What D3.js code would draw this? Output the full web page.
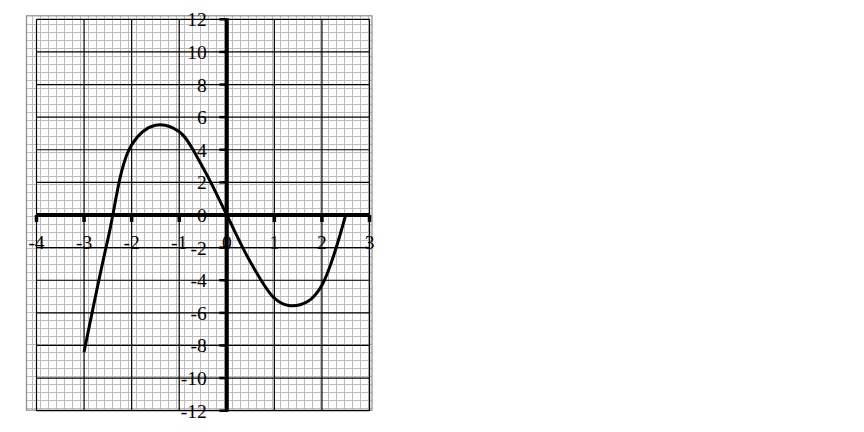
<!DOCTYPE html>
<html>
<head>
<meta charset="utf-8">
<script src="https://cdn.jsdelivr.net/npm/d3@7"></script>
<style>
  html, body { margin: 0; padding: 0; background: #fff; }
  svg { display: block; }
  text { font-family: "Liberation Serif", "DejaVu Serif", serif; font-size: 19.5px; fill: #000; }
</style>
</head>
<body>
<svg id="chart" width="864" height="432"></svg>
<script>
// ---- data ----
const xValues = [-3, -2.5, -2, -1.5, -1, -0.5, 0, 0.5, 1, 1.3, 1.7, 2, 2.5];
const yValues = [-8.4, -1.5, 4.3, 5.5, 5.1, 2.9, 0, -2.9, -5.1, -5.55, -5.3, -4.3, 0];
const xTicks = [-4, -3, -2, -1, 0, 1, 2, 3];
const yTicks = [-12, -10, -8, -6, -4, -2, 0, 2, 4, 6, 8, 10, 12];

const svg = d3.select("#chart");
const x = d3.scaleLinear().domain([-4, 3]).range([36.5, 369.5]);
const y = d3.scaleLinear().domain([-12, 12]).range([410.7, 19.3]);

// ---- graph-paper background (fixed 8px minor grid) ----
const paper = { left: x(-4) - 10, right: x(3) + 2.5, top: y(12) - 3.5, bottom: y(-12) - 0.5 };
const minorStep = 8;
const bg = svg.append("g");
d3.range(paper.left + 6, paper.right, minorStep).forEach(px => {
  bg.append("line").attr("x1", px).attr("x2", px).attr("y1", paper.top).attr("y2", paper.bottom)
    .attr("stroke", "#bdbdbd").attr("stroke-width", 1);
});
d3.range(paper.top + 8.7, paper.bottom, minorStep).forEach(py => {
  bg.append("line").attr("y1", py).attr("y2", py).attr("x1", paper.left).attr("x2", paper.right)
    .attr("stroke", "#bdbdbd").attr("stroke-width", 1);
});
bg.append("rect").attr("x", paper.left).attr("y", paper.top)
  .attr("width", paper.right - paper.left).attr("height", paper.bottom - paper.top)
  .attr("fill", "none").attr("stroke", "#8c8c8c").attr("stroke-width", 1.2);

// ---- major grid ----
const grid = svg.append("g").attr("stroke", "#000").attr("stroke-width", 1.2);
xTicks.forEach(v => {
  grid.append("line").attr("x1", x(v)).attr("x2", x(v)).attr("y1", y(12)).attr("y2", y(-12));
});
yTicks.forEach(v => {
  grid.append("line").attr("y1", y(v)).attr("y2", y(v)).attr("x1", x(-4)).attr("x2", x(3));
});

// ---- labels ----
const labels = svg.append("g");
xTicks.forEach(v => {
  labels.append("text").attr("x", x(v)).attr("y", y(0) + 33.5)
    .attr("text-anchor", "middle").text(v);
});
yTicks.forEach(v => {
  labels.append("text").attr("x", x(0) - 20).attr("y", y(v)).attr("dy", "0.36em")
    .attr("text-anchor", "end").text(v);
});

// ---- axes ----
const axes = svg.append("g").attr("stroke", "#000");
axes.append("line").attr("x1", x(-4)).attr("x2", x(3)).attr("y1", y(0)).attr("y2", y(0))
  .attr("stroke-width", 4);
axes.append("line").attr("x1", x(0)).attr("x2", x(0)).attr("y1", y(12) - 1).attr("y2", y(-12) + 1)
  .attr("stroke-width", 4);
xTicks.forEach(v => {
  axes.append("line").attr("x1", x(v)).attr("x2", x(v)).attr("y1", y(0)).attr("y2", y(0) + 7)
    .attr("stroke-width", 3.5);
});
yTicks.forEach(v => {
  axes.append("line").attr("x1", x(0) - 7.5).attr("x2", x(0)).attr("y1", y(v)).attr("y2", y(v))
    .attr("stroke-width", 2.5);
});

// ---- curve ----
const pts = xValues.map((v, i) => [v, yValues[i]]);
svg.append("path").datum(pts)
  .attr("fill", "none").attr("stroke", "#000").attr("stroke-width", 3)
  .attr("stroke-linejoin", "round")
  .attr("d", d3.line().x(d => x(d[0])).y(d => y(d[1])).curve(d3.curveCatmullRom.alpha(0.5)));
</script>
</body>
</html>
